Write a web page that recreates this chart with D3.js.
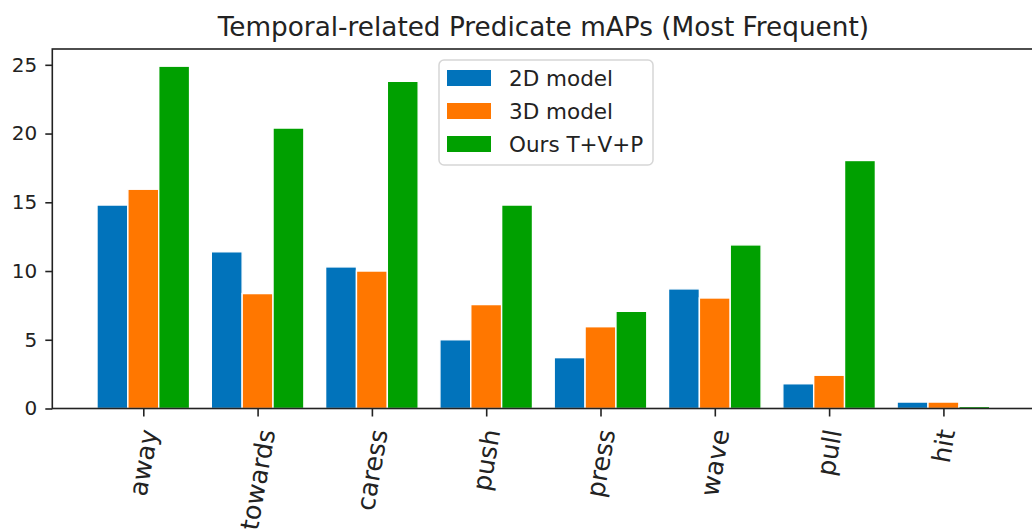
<!DOCTYPE html>
<html>
<head>
<meta charset="utf-8">
<script src="https://cdn.jsdelivr.net/npm/d3@7"></script>
<style>
  body { margin: 0; background: #fff; }
  text { font-family: "DejaVu Sans", sans-serif; fill: #222; }
</style>
</head>
<body>
<svg width="1032" height="532"></svg>
<script>
var categories = ['away', 'towards', 'caress', 'push', 'press', 'wave', 'pull', 'hit'];
var seriesNames = ['2D model', '3D model', 'Ours T+V+P'];
var model2d = [14.8, 11.4, 10.3, 5.0, 3.7, 8.7, 1.8, 0.47];
var model3d = [15.95, 8.36, 10.0, 7.56, 5.95, 8.04, 2.42, 0.47];
var ours = [24.9, 20.4, 23.8, 14.8, 7.07, 11.9, 18.04, 0.16];
var colors = ['#0173bb', '#ff7700', '#00a000'];
var yTicks = [0, 5, 10, 15, 20, 25];

var svg = d3.select('svg');
var series = [model2d, model3d, ours];
var barW = 0.27;

// data coords like matplotlib (category index on x)
var x = d3.scaleLinear().domain([-0.796, 7.796]).range([52.3, 1034.4]);
var y = d3.scaleLinear().domain([0, 26.15]).range([408.5, 49]);

// bars
series.forEach(function(vals, s) {
  svg.append('g').selectAll('rect')
      .data(vals)
    .enter().append('rect')
      .attr('x', function(d, i) { return x(i + (s - 1) * barW - barW / 2); })
      .attr('width', x(barW) - x(0))
      .attr('y', function(d) { return y(d); })
      .attr('height', function(d) { return y(0) - y(d); })
      .style('fill', colors[s])
      .style('stroke', '#fff')
      .style('stroke-width', 1.4);
});

// y axis
var yAxis = d3.axisLeft(y).tickValues(yTicks).tickSize(7).tickPadding(8).tickFormat(d3.format('d'));
var gy = svg.append('g').attr('transform', 'translate(' + x.range()[0] + ',0)').call(yAxis);
gy.select('.domain').remove();
gy.selectAll('line').style('stroke', '#222').style('stroke-width', 1.6);
gy.selectAll('text').style('font-size', '20px').style('fill', '#222').attr('font-family', 'DejaVu Sans');

// x ticks
var xAxis = d3.axisBottom(x).tickValues(d3.range(categories.length)).tickSize(8).tickFormat('');
var gx = svg.append('g').attr('transform', 'translate(0,' + y(0) + ')').call(xAxis);
gx.select('.domain').remove();
gx.selectAll('line').style('stroke', '#222').style('stroke-width', 1.6);

// rotated category labels, bbox centred on tick like matplotlib
var labels = svg.append('g').selectAll('text')
    .data(categories)
  .enter().append('text')
    .text(function(d) { return d; })
    .style('font-size', '25.5px')
    .attr('text-anchor', 'end')
    .attr('dominant-baseline', 'middle')
    .attr('transform', 'rotate(-80)');
labels.each(function(d, i) {
  var el = d3.select(this);
  var b = this.getBoundingClientRect();
  var tx = x(i) - (b.left + b.width / 2);
  var ty = 427 - b.top;
  el.attr('transform', 'translate(' + tx + ',' + ty + ') rotate(-80)');
});

// spines
var frame = svg.append('g').style('stroke', '#222').style('stroke-width', 1.6).style('fill', 'none');
frame.append('rect')
  .attr('x', x.range()[0]).attr('y', y.range()[1])
  .attr('width', x.range()[1] - x.range()[0])
  .attr('height', y.range()[0] - y.range()[1]);

// title
svg.append('text')
  .attr('x', (x.range()[0] + x.range()[1]) / 2)
  .attr('y', 36)
  .attr('text-anchor', 'middle')
  .style('font-size', '26.3px')
  .text('Temporal-related Predicate mAPs (Most Frequent)');

// legend
var legend = svg.append('g').attr('transform', 'translate(439,60)');
legend.append('rect')
  .attr('width', 214).attr('height', 105).attr('rx', 5)
  .style('fill', '#fff').style('fill-opacity', 0.8)
  .style('stroke', '#d6d6d6').style('stroke-width', 1.5);
var items = legend.selectAll('g.item')
    .data(seriesNames)
  .enter().append('g')
    .attr('class', 'item')
    .attr('transform', function(d, i) { return 'translate(0,' + (18 + i * 33) + ')'; });
items.append('rect')
  .attr('x', 8).attr('y', -8).attr('width', 44).attr('height', 16)
  .style('fill', function(d, i) { return colors[i]; });
items.append('text')
  .attr('x', 70).attr('y', 0)
  .attr('dominant-baseline', 'central')
  .style('font-size', '21.5px')
  .text(function(d) { return d; });
</script>
</body>
</html>
